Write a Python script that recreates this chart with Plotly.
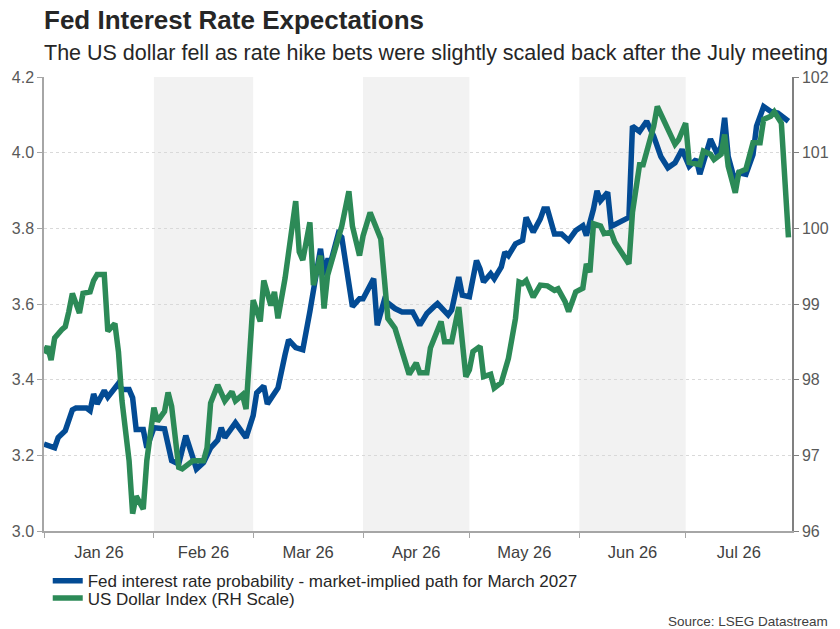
import plotly.graph_objects as go

fed_dates = [
    "2026-01-01", "2026-01-04", "2026-01-05", "2026-01-07", "2026-01-09", "2026-01-10",
    "2026-01-13", "2026-01-14", "2026-01-15", "2026-01-16", "2026-01-18", "2026-01-19",
    "2026-01-22", "2026-01-23", "2026-01-25", "2026-01-26", "2026-01-27", "2026-01-29",
    "2026-01-30", "2026-02-01", "2026-02-04", "2026-02-06", "2026-02-08", "2026-02-10",
    "2026-02-12", "2026-02-13", "2026-02-15", "2026-02-17", "2026-02-19", "2026-02-20",
    "2026-02-21", "2026-02-23", "2026-02-24", "2026-02-27", "2026-03-01", "2026-03-02",
    "2026-03-04", "2026-03-05", "2026-03-08", "2026-03-10", "2026-03-11", "2026-03-13",
    "2026-03-15", "2026-03-17", "2026-03-20", "2026-03-21", "2026-03-22", "2026-03-23",
    "2026-03-25", "2026-03-26", "2026-03-28", "2026-03-29", "2026-03-31", "2026-04-01",
    "2026-04-04", "2026-04-05", "2026-04-07", "2026-04-08", "2026-04-10", "2026-04-12",
    "2026-04-15", "2026-04-17", "2026-04-19", "2026-04-21", "2026-04-22", "2026-04-25",
    "2026-04-26", "2026-04-28", "2026-04-29", "2026-05-01", "2026-05-03", "2026-05-04",
    "2026-05-05", "2026-05-07", "2026-05-08", "2026-05-10", "2026-05-11", "2026-05-12",
    "2026-05-14", "2026-05-16", "2026-05-17", "2026-05-19", "2026-05-21", "2026-05-22",
    "2026-05-23", "2026-05-25", "2026-05-27", "2026-05-29", "2026-05-31", "2026-06-02",
    "2026-06-03", "2026-06-05", "2026-06-06", "2026-06-07", "2026-06-09", "2026-06-10",
    "2026-06-12", "2026-06-15", "2026-06-16", "2026-06-18", "2026-06-20", "2026-06-22",
    "2026-06-24", "2026-06-26", "2026-06-28", "2026-06-30", "2026-07-02", "2026-07-04",
    "2026-07-05", "2026-07-07", "2026-07-08", "2026-07-10", "2026-07-11", "2026-07-12",
    "2026-07-13", "2026-07-15", "2026-07-16", "2026-07-18", "2026-07-20", "2026-07-21",
    "2026-07-23", "2026-07-25", "2026-07-27", "2026-07-30",
]
fed_values = [
    3.230, 3.220, 3.247, 3.265, 3.320, 3.325,
    3.325, 3.318, 3.362, 3.336, 3.371, 3.354,
    3.390, 3.374, 3.374, 3.352, 3.268, 3.268,
    3.220, 3.273, 3.270, 3.186, 3.177, 3.252,
    3.194, 3.164, 3.181, 3.220, 3.240, 3.273,
    3.247, 3.273, 3.286, 3.247, 3.305, 3.365,
    3.383, 3.336, 3.378, 3.466, 3.505, 3.485,
    3.479, 3.580, 3.746, 3.676, 3.715, 3.715,
    3.785, 3.776, 3.641, 3.593, 3.614, 3.614,
    3.667, 3.544, 3.610, 3.601, 3.588, 3.579,
    3.579, 3.544, 3.575, 3.593, 3.601, 3.571,
    3.584, 3.671, 3.623, 3.619, 3.715, 3.693,
    3.658, 3.680, 3.667, 3.698, 3.737, 3.728,
    3.759, 3.768, 3.829, 3.790, 3.825, 3.851,
    3.851, 3.785, 3.785, 3.768, 3.794, 3.807,
    3.781, 3.851, 3.899, 3.873, 3.895, 3.805,
    3.816, 3.829, 4.070, 4.056, 4.083, 4.043,
    3.990, 3.960, 3.973, 4.008, 3.964, 3.982,
    3.943, 4.008, 4.036, 3.995, 4.017, 4.092,
    3.990, 3.921, 3.947, 3.943, 3.995, 4.070,
    4.122, 4.109, 4.105, 4.083,
]

dxy_dates = [
    "2026-01-01", "2026-01-02", "2026-01-03", "2026-01-04", "2026-01-06", "2026-01-07",
    "2026-01-08", "2026-01-09", "2026-01-11", "2026-01-12", "2026-01-14", "2026-01-15",
    "2026-01-16", "2026-01-18", "2026-01-19", "2026-01-21", "2026-01-22", "2026-01-23",
    "2026-01-25", "2026-01-26", "2026-01-27", "2026-01-29", "2026-01-30", "2026-02-01",
    "2026-02-02", "2026-02-04", "2026-02-05", "2026-02-06", "2026-02-08", "2026-02-09",
    "2026-02-12", "2026-02-15", "2026-02-16", "2026-02-17", "2026-02-19", "2026-02-20",
    "2026-02-21", "2026-02-23", "2026-02-24", "2026-02-26", "2026-02-27", "2026-03-01",
    "2026-03-03", "2026-03-04", "2026-03-06", "2026-03-07", "2026-03-08", "2026-03-10",
    "2026-03-13", "2026-03-14", "2026-03-15", "2026-03-17", "2026-03-18", "2026-03-20",
    "2026-03-21", "2026-03-22", "2026-03-23", "2026-03-26", "2026-03-28", "2026-03-29",
    "2026-03-31", "2026-04-01", "2026-04-03", "2026-04-05", "2026-04-06", "2026-04-07",
    "2026-04-08", "2026-04-10", "2026-04-12", "2026-04-14", "2026-04-16", "2026-04-17",
    "2026-04-19", "2026-04-20", "2026-04-23", "2026-04-24", "2026-04-26", "2026-04-28",
    "2026-04-30", "2026-05-01", "2026-05-02", "2026-05-04", "2026-05-05", "2026-05-07",
    "2026-05-08", "2026-05-10", "2026-05-12", "2026-05-14", "2026-05-15", "2026-05-16",
    "2026-05-17", "2026-05-19", "2026-05-21", "2026-05-23", "2026-05-25", "2026-05-26",
    "2026-05-28", "2026-05-29", "2026-05-31", "2026-06-02", "2026-06-03", "2026-06-04",
    "2026-06-05", "2026-06-07", "2026-06-08", "2026-06-10", "2026-06-11", "2026-06-15",
    "2026-06-16", "2026-06-18", "2026-06-19", "2026-06-20", "2026-06-22", "2026-06-23",
    "2026-06-25", "2026-06-26", "2026-06-28", "2026-06-29", "2026-07-01", "2026-07-02",
    "2026-07-04", "2026-07-05", "2026-07-06", "2026-07-08", "2026-07-09", "2026-07-11",
    "2026-07-12", "2026-07-13", "2026-07-15", "2026-07-16", "2026-07-18", "2026-07-20",
    "2026-07-22", "2026-07-23", "2026-07-25", "2026-07-26", "2026-07-28", "2026-07-29",
    "2026-07-30",
]
dxy_values = [
    98.35, 98.44, 98.26, 98.55, 98.66, 98.70,
    98.90, 99.14, 98.88, 99.14, 99.16, 99.31,
    99.39, 99.39, 98.64, 98.74, 98.37, 97.72,
    96.93, 96.23, 96.46, 96.29, 96.93, 97.63,
    97.45, 97.58, 97.83, 97.65, 96.84, 96.82,
    96.93, 96.93, 97.10, 97.69, 97.93, 97.80,
    97.72, 97.84, 97.72, 97.80, 97.61, 99.05,
    98.77, 99.31, 98.98, 99.16, 98.81, 99.34,
    100.36, 99.69, 99.58, 100.08, 99.25, 99.64,
    98.94, 99.38, 99.55, 100.03, 100.49, 100.03,
    99.64, 99.90, 100.21, 99.97, 99.86, 99.34,
    98.81, 98.68, 98.37, 98.07, 98.22, 98.09,
    98.09, 98.42, 98.77, 98.50, 98.50, 98.96,
    98.04, 98.13, 98.37, 98.44, 98.04, 98.07,
    97.89, 97.96, 98.28, 98.81, 99.29, 99.27,
    99.31, 99.09, 99.25, 99.24, 99.18, 99.20,
    99.03, 98.90, 99.16, 99.21, 99.53, 99.42,
    100.06, 100.03, 99.93, 99.95, 99.82, 99.53,
    100.21, 100.84, 100.84, 101.02, 101.35, 101.61,
    101.41, 101.35, 101.11, 101.17, 101.39, 100.87,
    100.84, 100.84, 101.02, 100.98, 100.91, 100.98,
    101.24, 100.82, 100.47, 100.74, 100.78, 101.13,
    101.13, 101.44, 101.48, 101.54, 101.39, 100.65,
    99.88,
]

shaded_months = [("2026-02-01", "2026-03-01"), ("2026-04-01", "2026-05-01"), ("2026-06-01", "2026-07-01")]

title_text = "Fed Interest Rate Expectations"
subtitle_text = "The US dollar fell as rate hike bets were slightly scaled back after the July meeting"
fed_name = "Fed interest rate probability - market-implied path for March 2027"
dxy_name = "US Dollar Index (RH Scale)"
source_text = "Source: LSEG Datastream"

BLUE = "#034b94"
GREEN = "#2c8a57"
AXIS = "#a6a6a6"
TXT = "#404040"
FONT = "Liberation Sans, Arial, sans-serif"

fig = go.Figure()
fig.add_trace(go.Scatter(x=fed_dates, y=fed_values, name=fed_name, mode="lines",
                         line=dict(color=BLUE, width=5.5), yaxis="y", legend="legend"))
fig.add_trace(go.Scatter(x=dxy_dates, y=dxy_values, name=dxy_name, mode="lines",
                         line=dict(color=GREEN, width=5.5), yaxis="y2", legend="legend2"))

for a, b in shaded_months:
    fig.add_shape(type="rect", xref="x", yref="paper", x0=a, x1=b, y0=0, y1=1,
                  fillcolor="#f2f2f2", line=dict(width=0), layer="below")

leg_common = dict(xanchor="left", yanchor="top", orientation="v",
                  font=dict(size=17, color="#262626", family=FONT),
                  bgcolor="rgba(0,0,0,0)", itemwidth=30)

fig.update_layout(
    width=840, height=629,
    margin=dict(l=44, r=48, t=77, b=95),
    paper_bgcolor="white", plot_bgcolor="white",
    font=dict(family=FONT, color=TXT, size=15),
    showlegend=True,
    legend=dict(x=0.005, y=-0.071, **leg_common),
    legend2=dict(x=0.005, y=-0.109, **leg_common),
    xaxis=dict(
        type="date", range=["2026-01-01", "2026-07-31"],
        dtick="M1", tick0="2026-01-01", ticklabelmode="period", tickformat="%b %y",
        showgrid=False, showline=True, linecolor=AXIS, linewidth=1.5,
        ticks="outside", ticklen=5, tickcolor=AXIS,
        tickfont=dict(size=16.5, color=TXT), zeroline=False,
    ),
    yaxis=dict(
        range=[3.0, 4.2], dtick=0.2, tick0=3.0, tickformat=".1f",
        showgrid=True, gridcolor="#d9d9d9", griddash="dot", gridwidth=1,
        showline=True, linecolor=AXIS, linewidth=1.5,
        ticks="outside", ticklen=5, tickcolor=AXIS,
        tickfont=dict(size=16, color="#595959"), zeroline=False,
    ),
    yaxis2=dict(
        range=[96, 102], dtick=1, tick0=96, overlaying="y", side="right",
        showgrid=False, showline=True, linecolor="#808080", linewidth=1.5,
        ticks="outside", ticklen=5, tickcolor="#808080",
        tickfont=dict(size=16, color="#595959"), zeroline=False,
    ),
    annotations=[
        dict(text="<b>" + title_text + "</b>", xref="paper", yref="paper",
             x=0, y=1, xshift=-2, yshift=57, xanchor="left", yanchor="middle",
             showarrow=False, font=dict(size=26, color="#262626", family=FONT)),
        dict(text=subtitle_text, xref="paper", yref="paper",
             x=0, y=1, xshift=-2, yshift=24, xanchor="left", yanchor="middle",
             showarrow=False, font=dict(size=21.5, color="#262626", family=FONT)),
        dict(text=source_text, xref="paper", yref="paper",
             x=1, y=0, xshift=38, yshift=-90, xanchor="right", yanchor="middle",
             showarrow=False, font=dict(size=13.5, color="#404040", family=FONT)),
    ],
)

fig.write_html("out.html")
